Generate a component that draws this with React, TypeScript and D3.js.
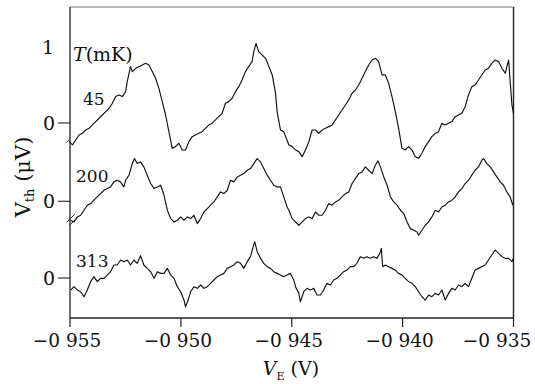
import React from 'react';
import * as d3 from 'd3';

const W = 535;
const H = 384;

// x axis: V_E in mV
const xTicks = [-955, -950, -945, -940, -935];
const xTickLabels = ['−0 955', '−0 950', '−0 945', '−0 940', '−0 935'];

// vertical offsets of the three traces (μV) and temperature labels
const traceOffsets = [0, -1.03, -2.04];
const traceLabels = ['45', '200', '313'];

// [V_E (mV), V_th (μV)] for T = 45 mK
const trace45: [number, number][] = [
  [-955.04,-0.246],[-954.89,-0.289],[-954.74,-0.224],[-954.59,-0.158],[-954.44,-0.136],[-954.29,-0.092],[-954.14,-0.070],[-953.99,-0.026],[-953.84,0.018],[-953.69,0.062],[-953.54,0.105],[-953.39,0.149],[-953.24,0.193],[-953.09,0.259],[-952.94,0.347],[-952.79,0.369],[-952.64,0.347],[-952.49,0.412],[-952.42,0.544],[-952.27,0.741],[-952.19,0.676],[-952.04,0.719],[-951.89,0.741],[-951.74,0.763],[-951.59,0.785],[-951.44,0.763],[-951.29,0.676],[-951.14,0.588],[-950.99,0.456],[-950.84,0.281],[-950.69,0.105],[-950.54,-0.114],[-950.39,-0.333],[-950.24,-0.311],[-950.09,-0.267],[-949.94,-0.355],[-949.79,-0.355],[-949.64,-0.246],[-949.49,-0.180],[-949.34,-0.158],[-949.19,-0.136],[-949.04,-0.114],[-948.89,-0.070],[-948.74,-0.026],[-948.59,-0.004],[-948.44,0.040],[-948.29,0.083],[-948.14,0.127],[-947.99,0.259],[-947.84,0.281],[-947.69,0.325],[-947.54,0.412],[-947.39,0.478],[-947.24,0.566],[-947.09,0.676],[-946.94,0.741],[-946.79,0.807],[-946.71,0.939],[-946.61,1.048],[-946.49,0.939],[-946.34,0.895],[-946.18,0.851],[-946.03,0.741],[-945.88,0.632],[-945.73,0.390],[-945.66,0.149],[-945.51,-0.092],[-945.36,-0.114],
  [-945.13,-0.289],[-944.98,-0.311],[-944.83,-0.355],[-944.68,-0.377],[-944.53,-0.443],[-944.38,-0.355],[-944.23,-0.246],[-944.08,-0.092],[-943.93,-0.092],[-943.78,-0.136],[-943.63,-0.092],[-943.48,-0.070],[-943.33,-0.048],[-943.18,-0.026],[-943.03,0.040],[-942.88,0.105],[-942.73,0.171],[-942.58,0.237],[-942.43,0.303],[-942.28,0.390],[-942.13,0.434],[-941.98,0.500],[-941.83,0.588],[-941.68,0.676],[-941.53,0.763],[-941.38,0.829],[-941.23,0.851],[-941.08,0.807],[-940.93,0.632],[-940.78,0.632],[-940.63,0.522],[-940.48,0.347],[-940.33,0.149],[-940.18,-0.070],[-940.03,-0.333],[-939.88,-0.355],[-939.73,-0.311],[-939.58,-0.355],[-939.43,-0.443],[-939.28,-0.465],[-939.13,-0.399],[-938.98,-0.311],[-938.83,-0.246],[-938.68,-0.180],[-938.53,-0.136],[-938.38,-0.114],[-938.23,-0.004],[-938.08,-0.026],[-937.93,-0.004],[-937.78,0.018],[-937.63,0.083],[-937.48,0.105],[-937.33,0.127],[-937.18,0.215],[-937.03,0.369],[-936.88,0.478],[-936.73,0.500],[-936.58,0.566],[-936.43,0.632],[-936.28,0.697],[-936.13,0.719],[-935.98,0.785],[-935.83,0.829],[-935.67,0.807],[-935.52,0.719],[-935.37,0.654],[-935.30,0.741],[-935.22,0.829],[-935.15,0.544],[-935.07,0.237],[-935.00,0.127],
];

// T = 200 mK
const trace200: [number, number][] = [
  [-954.97,-0.250],[-954.82,-0.272],[-954.67,-0.206],[-954.52,-0.184],[-954.37,-0.118],[-954.22,-0.052],[-954.07,-0.030],[-953.92,0.014],[-953.77,0.057],[-953.62,0.101],[-953.47,0.145],[-953.32,0.167],[-953.17,0.189],[-953.02,0.255],[-952.87,0.277],[-952.72,0.255],[-952.57,0.189],[-952.49,0.277],[-952.34,0.343],[-952.19,0.496],[-952.09,0.562],[-951.97,0.496],[-951.82,0.518],[-951.67,0.452],[-951.52,0.343],[-951.36,0.233],[-951.21,0.167],[-951.06,0.189],[-950.91,0.211],[-950.76,0.079],[-950.61,-0.118],[-950.46,-0.228],[-950.31,-0.272],[-950.16,-0.250],[-950.01,-0.206],[-949.86,-0.250],[-949.71,-0.206],[-949.56,-0.228],[-949.41,-0.184],[-949.26,-0.294],[-949.11,-0.228],[-948.96,-0.140],[-948.81,-0.096],[-948.66,-0.052],[-948.51,-0.009],[-948.36,0.057],[-948.21,0.123],[-948.06,0.101],[-947.91,0.145],[-947.76,0.277],[-947.61,0.255],[-947.46,0.320],[-947.31,0.343],[-947.16,0.364],[-947.01,0.408],[-946.86,0.430],[-946.71,0.496],[-946.56,0.562],[-946.41,0.518],[-946.26,0.430],[-946.11,0.343],[-945.96,0.277],[-945.81,0.211],[-945.66,0.189],[-945.51,0.189],[-945.36,0.057],[-945.21,-0.075],
  [-945.13,-0.118],[-944.98,-0.228],[-944.83,-0.272],[-944.68,-0.316],[-944.53,-0.272],[-944.38,-0.228],[-944.23,-0.206],[-944.08,-0.228],[-943.93,-0.140],[-943.78,-0.184],[-943.63,-0.184],[-943.48,-0.118],[-943.33,-0.030],[-943.18,-0.052],[-943.03,-0.009],[-942.88,0.014],[-942.73,0.057],[-942.58,0.101],[-942.43,0.123],[-942.28,0.233],[-942.13,0.298],[-941.98,0.364],[-941.83,0.386],[-941.68,0.452],[-941.53,0.408],[-941.38,0.364],[-941.23,0.474],[-941.11,0.531],[-941.00,0.452],[-940.85,0.320],[-940.70,0.211],[-940.55,0.057],[-940.40,-0.009],[-940.25,-0.052],[-940.10,-0.118],[-939.95,-0.162],[-939.80,-0.272],[-939.65,-0.360],[-939.50,-0.382],[-939.35,-0.404],[-939.28,-0.447],[-939.13,-0.382],[-938.98,-0.316],[-938.83,-0.272],[-938.68,-0.206],[-938.53,-0.118],[-938.38,-0.140],[-938.23,-0.075],[-938.08,-0.052],[-937.93,-0.009],[-937.78,0.014],[-937.63,0.057],[-937.48,0.123],[-937.33,0.167],[-937.18,0.233],[-937.03,0.277],[-936.88,0.343],[-936.73,0.408],[-936.58,0.452],[-936.43,0.540],[-936.35,0.562],[-936.20,0.496],[-936.05,0.452],[-935.90,0.386],[-935.75,0.320],[-935.60,0.255],[-935.45,0.211],[-935.30,0.123],[-935.15,0.057],[-935.03,-0.052],
];

// T = 313 mK
const trace313: [number, number][] = [
  [-954.97,-0.158],[-954.82,-0.114],[-954.67,-0.158],[-954.52,-0.180],[-954.37,-0.246],[-954.22,-0.158],[-954.07,-0.048],[-953.92,0.018],[-953.77,-0.048],[-953.62,-0.004],[-953.47,-0.004],[-953.32,0.039],[-953.17,0.083],[-953.02,0.171],[-952.87,0.171],[-952.72,0.237],[-952.57,0.215],[-952.42,0.237],[-952.27,0.171],[-952.12,0.237],[-951.97,0.193],[-951.82,0.294],[-951.67,0.171],[-951.52,0.127],[-951.36,0.083],[-951.21,-0.004],[-951.06,0.083],[-950.91,0.061],[-950.76,0.061],[-950.61,0.127],[-950.46,0.039],[-950.31,-0.004],[-950.16,-0.114],[-950.01,-0.180],[-949.86,-0.290],[-949.79,-0.378],[-949.67,-0.290],[-949.56,-0.180],[-949.41,-0.114],[-949.26,-0.136],[-949.11,-0.092],[-948.96,-0.136],[-948.81,-0.114],[-948.66,-0.070],[-948.51,-0.026],[-948.36,0.018],[-948.21,0.039],[-948.06,0.061],[-947.91,0.127],[-947.76,0.149],[-947.61,0.171],[-947.46,0.215],[-947.31,0.193],[-947.16,0.127],[-947.01,0.215],[-946.86,0.281],[-946.76,0.390],[-946.67,0.478],[-946.56,0.346],[-946.41,0.259],[-946.26,0.193],[-946.11,0.149],[-945.96,0.127],[-945.81,0.083],[-945.66,0.061],[-945.51,0.039],[-945.36,0.018],[-945.21,0.039],[-945.06,0.061],[-944.91,-0.026],[-944.83,-0.114],
  [-944.68,-0.202],[-944.61,-0.312],[-944.46,-0.180],[-944.31,-0.136],[-944.16,-0.158],[-944.01,-0.136],[-943.86,-0.224],[-943.71,-0.224],[-943.56,-0.158],[-943.41,-0.070],[-943.26,-0.092],[-943.11,-0.026],[-942.96,-0.004],[-942.81,0.039],[-942.66,0.083],[-942.51,0.105],[-942.36,0.149],[-942.21,0.149],[-942.06,0.193],[-941.91,0.281],[-941.76,0.259],[-941.61,0.281],[-941.46,0.259],[-941.31,0.281],[-941.16,0.259],[-941.03,0.324],[-940.96,0.390],[-940.90,0.149],[-940.78,0.171],[-940.63,0.149],[-940.48,0.127],[-940.33,0.105],[-940.18,0.061],[-940.03,0.039],[-939.88,-0.004],[-939.73,-0.048],[-939.58,-0.070],[-939.43,-0.114],[-939.28,-0.180],[-939.13,-0.246],[-938.98,-0.290],[-938.83,-0.224],[-938.68,-0.246],[-938.53,-0.202],[-938.38,-0.224],[-938.23,-0.158],[-938.08,-0.290],[-937.93,-0.202],[-937.78,-0.136],[-937.63,-0.158],[-937.48,-0.092],[-937.33,-0.114],[-937.18,-0.070],[-937.03,-0.114],[-936.88,-0.004],[-936.73,0.105],[-936.58,0.127],[-936.43,0.149],[-936.28,0.171],[-936.13,0.237],[-935.98,0.303],[-935.83,0.368],[-935.67,0.324],[-935.52,0.281],[-935.37,0.259],[-935.22,0.259],[-935.07,0.215],[-935.00,0.259],
];

const traces = [trace45, trace200, trace313];

const FONT = '"DejaVu Serif", "Liberation Serif", serif';

export default function App() {
  const left = 70, right = 513.5, top = 7, bottom = 318;
  const xs = d3.scaleLinear().domain([-955, -935]).range([left, right]);
  const ys = d3.scaleLinear().domain([-2.566, 1.526]).range([bottom, top]);
  const line = d3.line<[number, number]>().x(d => xs(d[0])).y(d => ys(d[1]));

  const labelPos = [
    { x: 83, y: 105 },
    { x: 76, y: 182 },
    { x: 76, y: 267 },
  ];

  return (
    <svg width={W} height={H} style={{ position: 'absolute', left: 0, top: 0, background: '#fff' }}>
      <rect x={0} y={0} width={W} height={H} fill="#fff" />
      {/* frame */}
      <line x1={left} y1={top} x2={right} y2={top} stroke="#777" strokeWidth={1} />
      <line x1={left} y1={top} x2={left} y2={bottom} stroke="#222" strokeWidth={1.3} />
      <line x1={right} y1={top} x2={right} y2={bottom} stroke="#222" strokeWidth={1.4} />
      <line x1={left} y1={bottom} x2={right} y2={bottom} stroke="#222" strokeWidth={1.3} />

      {/* x ticks */}
      {xTicks.map((t, i) => {
        const x = xs(t);
        const lx = i === xTicks.length - 1 ? 497 : x - 3;
        return (
          <g key={t}>
            <line x1={x} y1={bottom} x2={x} y2={bottom + 9} stroke="#222" strokeWidth={1.2} />
            <text x={lx} y={347} textAnchor="middle" fontFamily={FONT} fontSize={18.5} fill="#111">
              {xTickLabels[i]}
            </text>
          </g>
        );
      })}

      {/* y ticks: zero of each trace */}
      {traceOffsets.map((o, i) => (
        <g key={i}>
          <line x1={left - 12} y1={ys(o)} x2={left} y2={ys(o)} stroke="#222" strokeWidth={1.1} />
          <text x={55} y={ys(o)} dy="0.36em" textAnchor="end" fontFamily={FONT} fontSize={19} fill="#111">0</text>
        </g>
      ))}
      <text x={54} y={ys(1)} dy="0.36em" textAnchor="end" fontFamily={FONT} fontSize={19} fill="#111">1</text>

      {/* traces */}
      {traces.map((tr, i) => {
        const shifted = tr.map(d => [d[0], d[1] + traceOffsets[i]] as [number, number]);
        return <path key={i} d={line(shifted) || ''} fill="none" stroke="#111" strokeWidth={1.15} strokeLinejoin="round" />;
      })}

      {/* break marks at trace starts */}
      {(() => {
        const x0 = xs(trace200[0][0]);
        const y0 = ys(trace200[0][1] + traceOffsets[1]);
        return (
          <g stroke="#222" strokeWidth={1}>
            <line x1={x0 - 4} y1={y0 + 2} x2={x0 + 4} y2={y0 - 6} />
            <line x1={x0 - 1} y1={y0 + 5} x2={x0 + 7} y2={y0 - 3} />
          </g>
        );
      })()}
      {(() => {
        const x0 = xs(trace45[0][0]);
        const y0 = ys(trace45[0][1]);
        return <path d={`M${x0 - 3},${y0 + 1} L${x0},${y0 - 2}`} stroke="#222" strokeWidth={1} fill="none" />;
      })()}

      {/* temperature labels */}
      <text x={73} y={61} fontFamily={FONT} fontSize={19} fill="#111">
        <tspan fontStyle="italic">T</tspan>
        <tspan>(mK)</tspan>
      </text>
      {traceLabels.map((l, i) => (
        <text key={l} x={labelPos[i].x} y={labelPos[i].y} fontFamily={FONT} fontSize={17} fill="#111">{l}</text>
      ))}

      {/* x label */}
      <text x={291} y={375} textAnchor="middle" fontFamily={FONT} fontSize={19} fill="#111">
        <tspan fontStyle="italic">V</tspan>
        <tspan fontSize={11} dy={5}>E</tspan>
        <tspan dy={-5}> (V)</tspan>
      </text>

      {/* y label */}
      <text transform="translate(30,177) rotate(-90)" textAnchor="middle" fontFamily={FONT} fontSize={21} fill="#111">
        <tspan>V</tspan>
        <tspan fontSize={13} dy={4}>th</tspan>
        <tspan dy={-4}> (μV)</tspan>
      </text>
    </svg>
  );
}
